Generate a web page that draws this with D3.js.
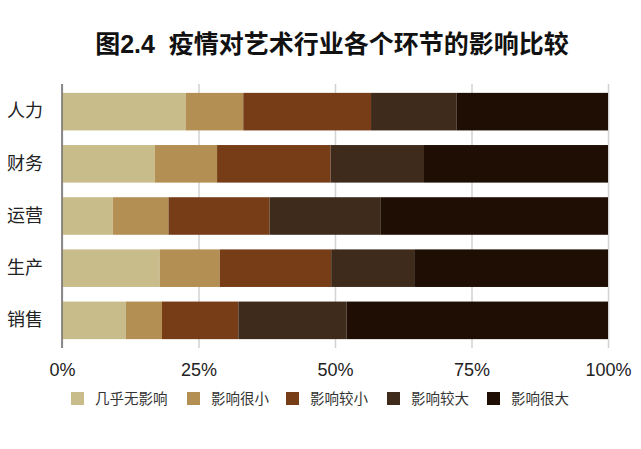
<!DOCTYPE html>
<html>
<head>
<meta charset="utf-8">
<script src="https://cdn.jsdelivr.net/npm/d3@7"></script>
<style>
  body { margin: 0; background: #fff; }
  text { font-family: "Liberation Sans", "Noto Sans CJK SC", sans-serif; }
</style>
</head>
<body>
<div id="chart"></div>
<script>
// data (percent of respondents)
var categories = ["人力", "财务", "运营", "生产", "销售"];
var levels = ["几乎无影响", "影响很小", "影响较小", "影响较大", "影响很大"];
var noImpact    = [22.7, 17.0,  9.3, 17.9, 11.7];
var verySmall   = [10.5, 11.4, 10.2, 11.0,  6.6];
var small       = [23.4, 20.8, 18.5, 20.4, 14.0];
var large       = [15.7, 17.1, 20.4, 15.2, 19.8];
var veryLarge   = [27.7, 33.7, 41.6, 35.5, 47.9];
var xTicks = [0, 25, 50, 75, 100];
var colors = ["#c9bc8b", "#b38f53", "#763d17", "#3f2b1c", "#1e0e04"];

var W = 641, H = 449;
var margin = {top: 84, right: 33, bottom: 101, left: 62};
var width = W - margin.left - margin.right,
    height = H - margin.top - margin.bottom;

var rows = categories.map(function(c, i) {
  return {cat: c, "几乎无影响": noImpact[i], "影响很小": verySmall[i],
          "影响较小": small[i], "影响较大": large[i], "影响很大": veryLarge[i]};
});

var svg = d3.select("#chart").append("svg")
    .attr("width", W).attr("height", H);

// title
svg.append("text")
  .attr("x", 332).attr("y", 53)
  .attr("text-anchor", "middle")
  .attr("font-size", "25px")
  .attr("font-weight", "bold")
  .attr("fill", "#111")
  .style("white-space", "pre")
  .text("图2.4  疫情对艺术行业各个环节的影响比较");

var g = svg.append("g")
  .attr("transform", "translate(" + margin.left + "," + margin.top + ")");

var x = d3.scaleLinear().domain([0, 100]).range([0, width]);
var y = d3.scaleBand().domain(categories).range([0, height])
  .paddingInner(0.28).paddingOuter(0.17);

// grid + bottom tick labels
var xAxis = g.append("g")
  .attr("transform", "translate(0," + height + ")")
  .call(d3.axisBottom(x).tickValues(xTicks).tickFormat(function(d) { return d + "%"; })
    .tickSizeInner(-height).tickSizeOuter(0).tickPadding(15));
xAxis.select(".domain").remove();
xAxis.selectAll(".tick line")
  .attr("stroke", "#d2d2d2").attr("stroke-width", 1.5);
xAxis.selectAll(".tick text")
  .attr("font-size", "18px").attr("fill", "#222");

// stacked bars
var series = d3.stack().keys(levels)(rows);
g.append("g").selectAll("g")
  .data(series)
  .enter().append("g")
    .attr("fill", function(d, i) { return colors[i]; })
  .selectAll("rect")
  .data(function(d) { return d; })
  .enter().append("rect")
    .attr("x", function(d) { return x(d[0]); })
    .attr("y", function(d) { return y(d.data.cat); })
    .attr("width", function(d) { return x(d[1]) - x(d[0]); })
    .attr("height", y.bandwidth());

// left axis line
g.append("line")
  .attr("x1", 0).attr("x2", 0).attr("y1", 0).attr("y2", height)
  .attr("stroke", "#6e6e6e").attr("stroke-width", 1.5);

// category labels
var yAxis = g.append("g")
  .call(d3.axisLeft(y).tickSize(0).tickPadding(19));
yAxis.select(".domain").remove();
yAxis.selectAll(".tick text")
  .attr("font-size", "18px").attr("fill", "#222");

// legend
var legendX = [71, 187, 286, 387, 487];
var legend = svg.append("g").selectAll("g")
  .data(levels)
  .enter().append("g")
    .attr("transform", function(d, i) { return "translate(" + legendX[i] + ",392)"; });
legend.append("rect")
  .attr("width", 13).attr("height", 13)
  .attr("fill", function(d, i) { return colors[i]; });
legend.append("text")
  .attr("x", 24).attr("y", 6.5).attr("dy", "0.35em")
  .attr("font-size", "14.5px").attr("fill", "#333")
  .text(function(d) { return d; });
</script>
</body>
</html>
